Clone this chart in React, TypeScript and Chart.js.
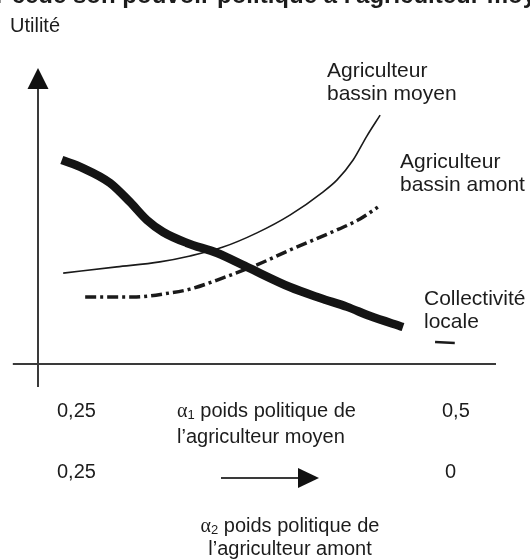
import React, { useEffect, useRef } from "react";
import { Chart, registerables } from "chart.js";

Chart.register(...registerables);

// ---- Data (schematic utility curves, arbitrary units 0..100) ----
const collectiviteX = [5.2, 9.8, 15.7, 20.1, 23.8, 27.3, 32.5, 39.1, 45.6, 55.0, 61.6, 67.5, 72.5, 79.7];
const collectiviteY = [68.9, 66.2, 61.2, 54.7, 48.6, 44.6, 40.9, 37.5, 32.8, 26.0, 22.3, 19.3, 16.2, 12.5];

const moyenX = [5.5, 17.2, 26.6, 33.2, 40.4, 47.8, 55.0, 62.2, 65.3, 68.8, 71.8, 74.7];
const moyenY = [30.7, 32.8, 34.5, 36.5, 39.5, 44.3, 50.3, 58.1, 62.2, 68.9, 77.0, 84.1];

const amontX = [10.3, 20.7, 28.8, 33.2, 40.4, 47.8, 55.0, 63.8, 70.3, 74.2];
const amontY = [22.6, 22.6, 24.0, 25.3, 29.1, 33.5, 38.5, 44.3, 49.0, 53.0];

const markX = [86.7, 91.0];
const markY = [7.4, 7.1];

const seriesLabels = ["Collectivité locale", "Agriculteur bassin moyen", "Agriculteur bassin amont"];
const alpha1Ticks = ["0,25", "0,5"];
const alpha2Ticks = ["0,25", "0"];
const titleText = "Le décideur cède son pouvoir politique à l'agriculteur moyen";
const yAxisLabel = "Utilité";

const SANS = "'Liberation Sans', Arial, sans-serif";
const SERIF = "'Liberation Serif', 'Times New Roman', serif";
const INK = "#1c1c1c";

const toPts = (xs: number[], ys: number[]) => xs.map((x, i) => ({ x, y: ys[i] }));

function drawAlphaLine(ctx: CanvasRenderingContext2D, x: number, y: number, sub: string, rest: string, align: "left" | "center") {
  ctx.font = `20px ${SERIF}`;
  const wa = ctx.measureText("α").width;
  ctx.font = `13px ${SANS}`;
  const ws = ctx.measureText(sub).width;
  ctx.font = `20px ${SANS}`;
  const wr = ctx.measureText(rest).width;
  let sx = align === "center" ? x - (wa + ws + wr) / 2 : x;
  ctx.textAlign = "left";
  ctx.font = `20px ${SERIF}`;
  ctx.fillText("α", sx, y);
  sx += wa;
  ctx.font = `13px ${SANS}`;
  ctx.fillText(sub, sx, y + 2);
  sx += ws;
  ctx.font = `20px ${SANS}`;
  ctx.fillText(rest, sx, y);
}

const decorPlugin = {
  id: "decor",
  beforeDatasetsDraw(chart: any) {
    const { ctx } = chart;
    const xs = chart.scales.x;
    const ys = chart.scales.y;
    const x0 = xs.getPixelForValue(0);
    const y0 = ys.getPixelForValue(0);
    ctx.save();
    ctx.strokeStyle = "#3a3a3a";
    ctx.lineWidth = 2;
    // horizontal axis
    ctx.beginPath();
    ctx.moveTo(xs.getPixelForValue(-5.5), y0);
    ctx.lineTo(xs.getPixelForValue(100), y0);
    ctx.stroke();
    // vertical axis
    ctx.beginPath();
    ctx.moveTo(x0, ys.getPixelForValue(-7.8));
    ctx.lineTo(x0, ys.getPixelForValue(93));
    ctx.stroke();
    // arrow head
    const tip = ys.getPixelForValue(100);
    ctx.fillStyle = "#111";
    ctx.beginPath();
    ctx.moveTo(x0, tip);
    ctx.lineTo(x0 - 10.5, tip + 21);
    ctx.lineTo(x0 + 10.5, tip + 21);
    ctx.closePath();
    ctx.fill();
    ctx.restore();
  },
  afterDatasetsDraw(chart: any) {
    const { ctx } = chart;
    ctx.save();
    ctx.fillStyle = INK;
    ctx.textBaseline = "alphabetic";
    ctx.textAlign = "left";

    // Title (cut off at the top of the picture)
    ctx.font = `bold 24px ${SANS}`;
    const pre = "Le décideur cède ";
    const preW = ctx.measureText(pre).width;
    ctx.fillText(titleText, 73 - preW, 3);

    ctx.font = `20px ${SANS}`;
    ctx.fillText(yAxisLabel, 10, 32);

    // Curve labels
    ctx.font = `21px ${SANS}`;
    ctx.fillText("Agriculteur", 327, 77);
    ctx.fillText("bassin moyen", 327, 100);
    ctx.fillText("Agriculteur", 400, 168);
    ctx.fillText("bassin amont", 400, 191);
    ctx.fillText("Collectivité", 424, 305);
    ctx.fillText("locale", 424, 328);

    // Bottom annotations
    ctx.font = `20px ${SANS}`;
    ctx.fillText(alpha1Ticks[0], 57, 417);
    ctx.fillText(alpha1Ticks[1], 442, 417);
    drawAlphaLine(ctx, 177, 417, "1", " poids politique de", "left");
    ctx.font = `20px ${SANS}`;
    ctx.fillText("l’agriculteur moyen", 177, 443);

    ctx.fillText(alpha2Ticks[0], 57, 478);
    ctx.fillText(alpha2Ticks[1], 445, 478);

    // direction arrow
    ctx.strokeStyle = "#3a3a3a";
    ctx.lineWidth = 2;
    ctx.beginPath();
    ctx.moveTo(221, 478);
    ctx.lineTo(299, 478);
    ctx.stroke();
    ctx.fillStyle = "#111";
    ctx.beginPath();
    ctx.moveTo(319, 478);
    ctx.lineTo(298, 468);
    ctx.lineTo(298, 488);
    ctx.closePath();
    ctx.fill();

    ctx.fillStyle = INK;
    drawAlphaLine(ctx, 290, 532, "2", " poids politique de", "center");
    ctx.font = `20px ${SANS}`;
    ctx.textAlign = "center";
    ctx.fillText("l’agriculteur amont", 290, 555);
    ctx.restore();
  },
};

export default function App() {
  const canvasRef = useRef<HTMLCanvasElement | null>(null);

  useEffect(() => {
    const canvas = canvasRef.current;
    if (!canvas) return;
    const chart = new Chart(canvas, {
      type: "line",
      data: {
        datasets: [
          {
            label: seriesLabels[0],
            data: toPts(collectiviteX, collectiviteY),
            borderColor: "#141414",
            borderWidth: 8.5,
            borderCapStyle: "butt",
            borderJoinStyle: "round",
            cubicInterpolationMode: "monotone",
            pointRadius: 0,
            fill: false,
          },
          {
            label: seriesLabels[1],
            data: toPts(moyenX, moyenY),
            borderColor: "#1a1a1a",
            borderWidth: 1.6,
            cubicInterpolationMode: "monotone",
            pointRadius: 0,
            fill: false,
          },
          {
            label: seriesLabels[2],
            data: toPts(amontX, amontY),
            borderColor: "#1a1a1a",
            borderWidth: 3.5,
            borderDash: [11, 4, 3, 4],
            borderCapStyle: "butt",
            cubicInterpolationMode: "monotone",
            pointRadius: 0,
            fill: false,
          },
          {
            label: "",
            data: toPts(markX, markY),
            borderColor: "#1a1a1a",
            borderWidth: 2.5,
            pointRadius: 0,
            fill: false,
          },
        ],
      },
      options: {
        responsive: false,
        animation: false,
        events: [],
        layout: { padding: { left: 38, right: 34, top: 68, bottom: 195 } },
        scales: {
          x: { type: "linear", min: 0, max: 100, display: false },
          y: { type: "linear", min: 0, max: 100, display: false },
        },
        plugins: {
          legend: { display: false },
          tooltip: { enabled: false },
          title: { display: false },
        },
      },
      plugins: [decorPlugin],
    });
    return () => chart.destroy();
  }, []);

  return (
    <div style={{ position: "fixed", left: 0, top: 0, width: 530, height: 559, background: "#fff" }}>
      <canvas ref={canvasRef} width={530} height={559} style={{ display: "block" }} />
    </div>
  );
}
